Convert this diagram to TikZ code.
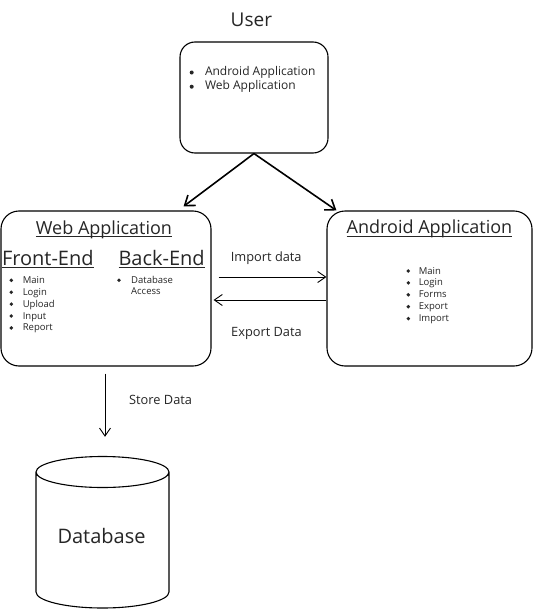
\documentclass[tikz,border=0pt]{standalone}
\usepackage{fontspec}
\setmainfont{Open Sans}
\usetikzlibrary{arrows.meta}
\newcommand\fs[2]{\fontsize{#1}{#2}\selectfont}
\newcommand\ulx[1]{\setbox0=\hbox{#1}\rlap{\rule[-3.2pt]{\wd0}{1.1pt}}\box0}
\tikzset{
  box/.style={draw, line width=1.1pt, rounded corners=#1, inner sep=0pt},
  box/.default=18pt,
  lbl/.style={inner sep=0pt, anchor=base west, text=black!85},
  arr/.style={line width=0.9pt, -{Straight Barb[length=8pt,width=11pt,line width=0.9pt]}},
  thick arr/.style={line width=1.6pt, -{Straight Barb[length=9pt,width=13pt,line width=1.6pt]}},
  dot/.style={fill=black!85},
}
\begin{document}
\begin{tikzpicture}[x=1pt,y=-1pt]
\useasboundingbox (0,0) rectangle (533,610);
\fill[white] (0,0) rectangle (533,610);

% User
\node[lbl, font=\fs{19}{22}] (usertitle) at (230.5,26.7) {User};
\node[box=15pt, minimum width=148pt, minimum height=111pt] (user) at (254,97.5) {};
\foreach \t [count=\i] in {Android Application, Web Application}{
  \fill[dot] (191.7,{75.7+14.2*(\i-1)-3.2}) circle (2pt);
  \node[lbl, font=\fs{12}{14}] (u\i) at (204.8,{75.7+14.2*(\i-1)}) {\t};
}

% Web application
\node[box, minimum width=210pt, minimum height=155pt] (web) at (106,288.5) {};
\node[lbl, font=\fs{18}{20}] (webtitle) at (35.7,234) {\ulx{Web Application}};
\node[lbl, font=\fs{20}{22}] (front) at (1.8,265) {\ulx{Front-End}};
\node[lbl, font=\fs{20}{22}] (back) at (118.3,265) {\ulx{Back-End}};
\foreach \t [count=\i] in {Main, Login, Upload, Input, Report}{
  \fill[dot] (11.3,{283.3+11.9*(\i-1)-3}) circle (1.9pt);
  \node[lbl, font=\fs{9.5}{12}] (f\i) at (22.6,{283.3+11.9*(\i-1)}) {\t};
}
\fill[dot] (119,280.3) circle (1.9pt);
\node[lbl, font=\fs{9.5}{12}] (b1) at (131,283.3) {Database};
\node[lbl, font=\fs{9.5}{12}] (b2) at (131,294.8) {Access};

% Android application
\node[box, minimum width=205pt, minimum height=155pt] (and) at (429.5,288.5) {};
\node[lbl, font=\fs{18}{20}] (andtitle) at (346.5,233.5) {\ulx{Android Application}};
\foreach \t [count=\i] in {Main, Login, Forms, Export, Import}{
  \fill[dot] (408.3,{274+11.9*(\i-1)-3}) circle (1.9pt);
  \node[lbl, font=\fs{9.5}{12}] (a\i) at (418.6,{274+11.9*(\i-1)}) {\t};
}

% Database cylinder
\node[inner sep=0pt, minimum width=133pt, minimum height=151pt] (db) at (102.5,532.5) {};
\draw[line width=1.1pt] (36,472) arc[start angle=180, end angle=360, x radius=66.5pt, y radius=15.5pt]
  arc[start angle=0, end angle=180, x radius=66.5pt, y radius=15.5pt] -- (36,592)
  arc[start angle=180, end angle=360, x radius=66.5pt, y radius=16pt] -- (169,472);
\node[lbl, font=\fs{20}{22}] (dbtext) at (57.3,543.3) {Database};

% Connectors
\draw[thick arr] (user.south) -- ([xshift=-28pt,yshift=4pt]web.north east);
\draw[thick arr] (user.south) -- ([xshift=10pt]and.north west);
\draw[arr] ([xshift=7pt,yshift=11.5pt]web.east) -- ([yshift=11.5pt]and.west);
\draw[arr] ([yshift=-11.5pt]and.west) -- ([xshift=2pt,yshift=-11.5pt]web.east);
\draw[arr] ([xshift=-1pt,yshift=-7pt]web.south) -- ([xshift=-1pt,yshift=20pt]web.south |- db.north);

% Connector labels
\node[lbl, font=\fs{12.8}{14}] (imp) at (230.7,261.7) {Import data};
\node[lbl, font=\fs{12.8}{14}] (exp) at (231,336) {Export Data};
\node[lbl, font=\fs{12.8}{14}] (store) at (129,404.3) {Store Data};
\end{tikzpicture}
\end{document}
